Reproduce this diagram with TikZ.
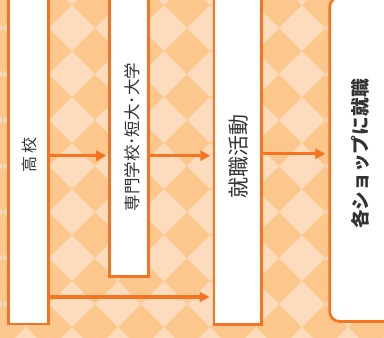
\documentclass[tikz,border=0pt]{standalone}
\usepackage{fontspec}
\newfontfamily\jp{Noto Sans CJK JP}
\usetikzlibrary{arrows.meta}
\definecolor{bgdark}{HTML}{FBC78D}
\definecolor{bglight}{HTML}{FDDCBD}
\definecolor{org}{HTML}{F47421}
\definecolor{txt}{HTML}{333333}
\begin{document}
\begin{tikzpicture}[x=1pt,y=-1pt,
  box/.style={draw=org, line width=2.7pt, fill=white, inner sep=0pt, outer sep=0pt, rectangle},
  lbl/.style={font=\jp, rotate=90, inner sep=0pt, text=txt},
  arr/.style={draw=org, line width=3.3pt, -{Triangle[length=10pt,width=10pt]}}
]
\useasboundingbox (0,0) rectangle (384,338);
\clip (0,0) rectangle (384,338);
\fill[bgdark] (0,0) rectangle (384,338);
\foreach \i in {-2,...,7}{
  \foreach \j in {-1,...,7}{
    \fill[bglight] ({72+46*\i},{28+46*\j-23}) -- ++(23,23) -- ++(-23,23) -- ++(-23,-23) -- cycle;
  }
}
\node[box, minimum width=39.6pt, minimum height=338pt] (b1) at (28.5,155) {};
\node[box, minimum width=39.1pt, minimum height=290.5pt] (b2) at (129.25,131.25) {};
\node[box, minimum width=47.3pt, minimum height=338.5pt] (b3) at (237.65,155.25) {};
\node[box, rounded corners=10pt, minimum width=70.3pt, minimum height=324.5pt] (b4) at (364.85,159.25) {};

\node[lbl, font=\jp\fontsize{16}{16}\selectfont] (t1) at (29,155) {高 校};
\node[lbl, font=\jp\fontsize{16.5}{16.5}\selectfont] (t2) at (132,137) {専門学校･短大･大学};
\node[lbl, font=\jp\fontsize{21}{21}\selectfont] (t3) at (239,156) {就職活動};
\node[lbl, font=\jp\bfseries\fontsize{18.7}{18.7}\selectfont] (t4) at (360,154) {各ショップに就職};

\coordinate (y1) at (0,155.7);
\coordinate (y2) at (0,297);
\coordinate (y3) at (0,153.8);
\draw[arr, shorten >=3.5pt] (b1.east |- y1) -- (b2.west |- y1);
\draw[arr, shorten >=3.7pt] (b2.east |- y1) -- (b3.west |- y1);
\draw[arr, shorten >=4.5pt] (b1.east |- y2) -- (b3.west |- y2);
\draw[arr, shorten >=4.4pt] (b3.east |- y3) -- (b4.west |- y3);
\end{tikzpicture}
\end{document}
